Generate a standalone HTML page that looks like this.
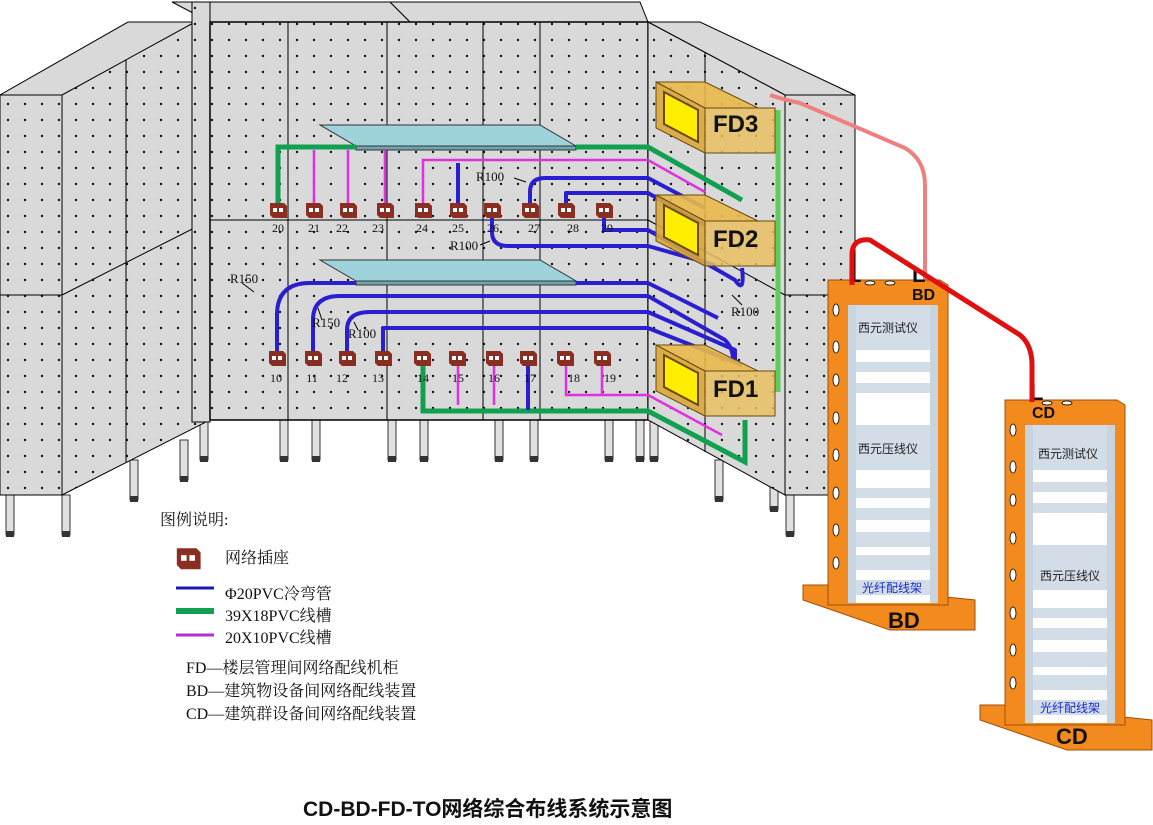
<!DOCTYPE html>
<html><head><meta charset="utf-8"><style>
html,body{margin:0;padding:0;background:#fff}
svg{display:block}
text{font-family:"Liberation Serif","Noto Serif CJK SC",serif}
.s text, text.s{font-family:"Liberation Sans","Noto Sans CJK SC",sans-serif}
</style></head><body>
<svg width="1153" height="825" viewBox="0 0 1153 825" xmlns="http://www.w3.org/2000/svg">
<defs>
<pattern id="d" width="17" height="16" patternUnits="userSpaceOnUse"><rect width="17" height="16" fill="#d9d9d9"/><circle cx="8" cy="8" r="1.2" fill="#111"/></pattern>
<g id="o"><path d="M-8,-7 h14 l3,3 v12 h-14 l-3,-3z" fill="#8b2e22"/><rect x="-5" y="-2" width="4" height="4" fill="#fff"/><rect x="1" y="-2" width="4" height="4" fill="#fff"/></g>
<g id="leg"><rect x="0" y="0" width="8" height="40" fill="#e0e0e0" stroke="#333" stroke-width="1"/><rect x="0" y="36" width="8" height="6" fill="#333"/></g>
</defs>
<rect width="1153" height="825" fill="#fff"/>
<g>
<use href="#leg" x="6" y="495"/><use href="#leg" x="62" y="495"/><use href="#leg" x="130" y="460"/><use href="#leg" x="180" y="440"/><use href="#leg" x="200" y="420"/>
<use href="#leg" x="280" y="420"/><use href="#leg" x="312" y="420"/><use href="#leg" x="388" y="420"/><use href="#leg" x="420" y="420"/><use href="#leg" x="495" y="420"/><use href="#leg" x="530" y="420"/><use href="#leg" x="605" y="420"/><use href="#leg" x="636" y="420"/><use href="#leg" x="650" y="420"/><use href="#leg" x="715" y="460"/><use href="#leg" x="770" y="470"/><use href="#leg" x="786" y="495"/>
</g>
<polygon points="172,2 390,2 410,22 210,22" fill="#d9d9d9" stroke="#000"/>
<polygon points="390,2 640,2 648,22 410,22" fill="#d9d9d9" stroke="#000"/>
<polygon points="0,95 128,22 195,22 68,95" fill="#d9d9d9" stroke="#000"/>
<polygon points="648,22 700,22 855,95 785,95" fill="#d9d9d9" stroke="#000"/>
<rect x="0" y="95" width="62" height="400" fill="url(#d)" stroke="#000"/>
<line x1="0" y1="295" x2="62" y2="295" stroke="#000"/>
<polygon points="62,95 195,22 210,22 210,420 62,495" fill="url(#d)" stroke="#000"/>
<line x1="62" y1="295" x2="210" y2="220" stroke="#000"/>
<line x1="126" y1="60" x2="126" y2="462" stroke="#000"/>
<rect x="192" y="2" width="18" height="420" fill="url(#d)" stroke="#000"/>
<rect x="210" y="22" width="438" height="398" fill="url(#d)" stroke="#000" stroke-width="1.5"/>
<line x1="210" y1="220" x2="648" y2="220" stroke="#000"/>
<line x1="288" y1="22" x2="288" y2="420" stroke="#000"/>
<line x1="387" y1="22" x2="387" y2="420" stroke="#000"/>
<line x1="483" y1="22" x2="483" y2="420" stroke="#000"/>
<line x1="540" y1="22" x2="540" y2="420" stroke="#000"/>
<polygon points="648,22 785,95 785,495 648,420" fill="url(#d)" stroke="#000"/>
<line x1="705" y1="52" x2="705" y2="452" stroke="#000"/>
<line x1="648" y1="220" x2="785" y2="295" stroke="#000"/>
<rect x="785" y="95" width="70" height="400" fill="url(#d)" stroke="#000"/>
<line x1="785" y1="295" x2="855" y2="295" stroke="#000"/>
<polygon points="320,125 540,125 576,146 356,146" fill="#9fd3dc" stroke="#333"/>
<polygon points="356,146 576,146 576,150 356,150" fill="#6fa6b0" stroke="#333"/>
<polygon points="320,260 540,260 576,281 356,281" fill="#9fd3dc" stroke="#333"/>
<polygon points="356,281 576,281 576,285 356,285" fill="#6fa6b0" stroke="#333"/>
<g fill="none" stroke="#11a050" stroke-width="5">
<path d="M278,205 V147 H356 M576,147 H648 L742,200"/>
<path d="M423,365 V411 H648 L745,462 V420"/>
<path d="M778,110 V392" stroke="#5ccf5c"/>
</g>
<g fill="none" stroke="#e030e0" stroke-width="2.5">
<path d="M314,150 V205 M348,150 V205 M385,150 V205"/>
<path d="M423,205 V160 H648 L705,192"/>
<path d="M458,365 V405 M494,365 V405 M602,365 V395 H648 L722,435 M566,365 V395 H602"/>
</g>
<g fill="none" stroke="#2a1fd0" stroke-width="4" stroke-linejoin="round">
<path d="M458,163 V205"/>
<path d="M530,205 V192 Q530,178 545,178 H648 L705,208"/>
<path d="M566,205 V193 H648 L705,225"/>
<path d="M492,215 V232 Q492,246 508,246 H648 L715,265"/>
<path d="M604,215 V230 H648 L735,280 Q745,295 742,268"/>
<path d="M277,352 V315 Q277,283 310,283 H356"/>
<path d="M313,352 V320 Q313,296 340,296 H648 L725,340 Q733,348 733,360"/>
<path d="M347,352 V330 Q347,312 370,312 H648 L735,350 V362"/>
<path d="M383,352 V328 H648 L742,365"/>
<path d="M528,365 V410"/>
<path d="M576,283 H648 L718,318"/>
</g>
<g>
<use href="#o" x="278" y="210"/><use href="#o" x="314" y="210"/><use href="#o" x="348" y="210"/><use href="#o" x="385" y="210"/><use href="#o" x="423" y="210"/><use href="#o" x="458" y="210"/><use href="#o" x="492" y="210"/><use href="#o" x="530" y="210"/><use href="#o" x="566" y="210"/><use href="#o" x="604" y="210"/>
<use href="#o" x="277" y="358"/><use href="#o" x="313" y="358"/><use href="#o" x="347" y="358"/><use href="#o" x="383" y="358"/><use href="#o" x="422" y="358"/><use href="#o" x="457" y="358"/><use href="#o" x="494" y="358"/><use href="#o" x="528" y="358"/><use href="#o" x="565" y="358"/><use href="#o" x="602" y="358"/>
</g>
<g font-size="12" fill="#111" text-anchor="middle">
<text x="278" y="232">20</text><text x="314" y="232">21</text><text x="342" y="232">22</text><text x="378" y="232">23</text><text x="422" y="232">24</text><text x="458" y="232">25</text><text x="493" y="232">26</text><text x="534" y="232">27</text><text x="573" y="232">28</text><text x="607" y="232">29</text>
<text x="276" y="382">10</text><text x="312" y="382">11</text><text x="342" y="382">12</text><text x="378" y="382">13</text><text x="423" y="382">14</text><text x="458" y="382">15</text><text x="494" y="382">16</text><text x="530" y="382">17</text><text x="574" y="382">18</text><text x="610" y="382">19</text>
</g>
<g font-size="13" fill="#111">
<text x="476" y="181">R100</text><text x="450" y="250">R100</text><text x="230" y="283">R150</text><text x="312" y="327">R150</text><text x="348" y="338">R100</text><text x="731" y="316">R100</text>
</g>
<g stroke="#000" stroke-width="1" fill="none"><path d="M514,178 L526,182 M480,245 L490,241 M242,283 L254,292 M322,320 L318,308 M358,330 L354,322 M742,305 L732,295"/></g>
<g id="fd">
<polygon points="656,82 705,82 758,108 705,108" fill="#e8b84a" stroke="#6b4a10" fill-opacity="0.9"/>
<polygon points="656,82 705,108 705,153 656,128" fill="#d9a63a" stroke="#6b4a10" fill-opacity="0.9"/>
<polygon points="664,92 698,110 698,142 664,124" fill="#ffee00" stroke="#6b4a10" stroke-width="2"/>
<rect x="705" y="108" width="70" height="45" fill="#e8c060" stroke="#6b4a10" fill-opacity="0.85"/>
</g>
<use href="#fd" y="113"/>
<use href="#fd" y="263"/>
<g class="s" font-size="24" font-weight="bold" fill="#111"><text x="713" y="132">FD3</text><text x="713" y="247">FD2</text><text x="713" y="397">FD1</text></g>
<path d="M770,95 Q785,100 800,103 L905,148 Q925,160 925,185 V285" fill="none" stroke="#f08080" stroke-width="4"/>
<g id="rack">
<polygon points="803,585 828,585 975,600 975,630 890,630 803,600" fill="#f28a1e" stroke="#a0500a"/>
<polygon points="828,280 940,280 948,285 948,605 828,605" fill="#f28a1e" stroke="#a0500a"/>
<rect x="848" y="305" width="90" height="298" fill="#fff"/>
<g fill="#d2dde8"><rect x="855" y="305" width="80" height="45"/><rect x="855" y="362" width="80" height="10"/><rect x="855" y="383" width="80" height="10"/><rect x="855" y="425" width="80" height="45"/><rect x="855" y="488" width="80" height="10"/><rect x="855" y="508" width="80" height="12"/><rect x="855" y="532" width="80" height="15"/><rect x="855" y="555" width="80" height="15"/><rect x="855" y="580" width="80" height="15"/></g>
<rect x="848" y="305" width="8" height="298" fill="#c8d4e0"/><rect x="930" y="305" width="8" height="298" fill="#c8d4e0"/>
<g fill="#fff" stroke="#000" stroke-width="0.8"><ellipse cx="836" cy="310" rx="3" ry="6"/><ellipse cx="836" cy="347" rx="3" ry="6"/><ellipse cx="836" cy="380" rx="3" ry="6"/><ellipse cx="836" cy="418" rx="3" ry="6"/><ellipse cx="836" cy="455" rx="3" ry="6"/><ellipse cx="836" cy="493" rx="3" ry="6"/><ellipse cx="836" cy="530" rx="3" ry="6"/><ellipse cx="836" cy="563" rx="3" ry="6"/><ellipse cx="870" cy="283" rx="5" ry="2"/><ellipse cx="890" cy="283" rx="5" ry="2"/></g>
</g>
<g transform="translate(177,120)"><use href="#rack"/></g>
<g class="s" font-size="12" fill="#222"><text x="858" y="332">西元测试仪</text><text x="858" y="453">西元压线仪</text><text x="1038" y="458">西元测试仪</text><text x="1040" y="580">西元压线仪</text></g>
<g class="s" font-size="12" fill="#1a2ad0"><text x="862" y="592">光纤配线架</text><text x="1040" y="712">光纤配线架</text></g>
<g class="s" font-weight="bold" fill="#111"><text x="888" y="628" font-size="22">BD</text><text x="1056" y="744" font-size="22">CD</text><text x="912" y="300" font-size="16">BD</text><text x="1032" y="418" font-size="16">CD</text><text x="848" y="282" font-size="22">L</text><text x="912" y="282" font-size="22">L</text><text x="1030" y="400" font-size="22">L</text></g>
<path d="M852,285 V255 Q852,238 870,240 L1020,335 Q1032,345 1032,365 V402" fill="none" stroke="#e01010" stroke-width="5"/>
<g font-size="16" fill="#111">
<text x="160" y="525">图例说明:</text>
<text x="225" y="563">网络插座</text>
<text x="225" y="599">Φ20PVC冷弯管</text>
<text x="225" y="621">39X18PVC线槽</text>
<text x="225" y="643">20X10PVC线槽</text>
<text x="186" y="673">FD—楼层管理间网络配线机柜</text>
<text x="186" y="696">BD—建筑物设备间网络配线装置</text>
<text x="186" y="719">CD—建筑群设备间网络配线装置</text>
</g>
<g transform="translate(188,558) scale(1.4)"><use href="#o"/></g>
<line x1="176" y1="588" x2="214" y2="588" stroke="#1a1ab0" stroke-width="3"/>
<line x1="176" y1="611" x2="214" y2="611" stroke="#11a050" stroke-width="6"/>
<line x1="176" y1="635" x2="214" y2="635" stroke="#b030d0" stroke-width="3"/>
<text x="303" y="816" class="s" font-size="21" font-weight="bold" fill="#111">CD-BD-FD-TO网络综合布线系统示意图</text>
</svg>
</body></html>
